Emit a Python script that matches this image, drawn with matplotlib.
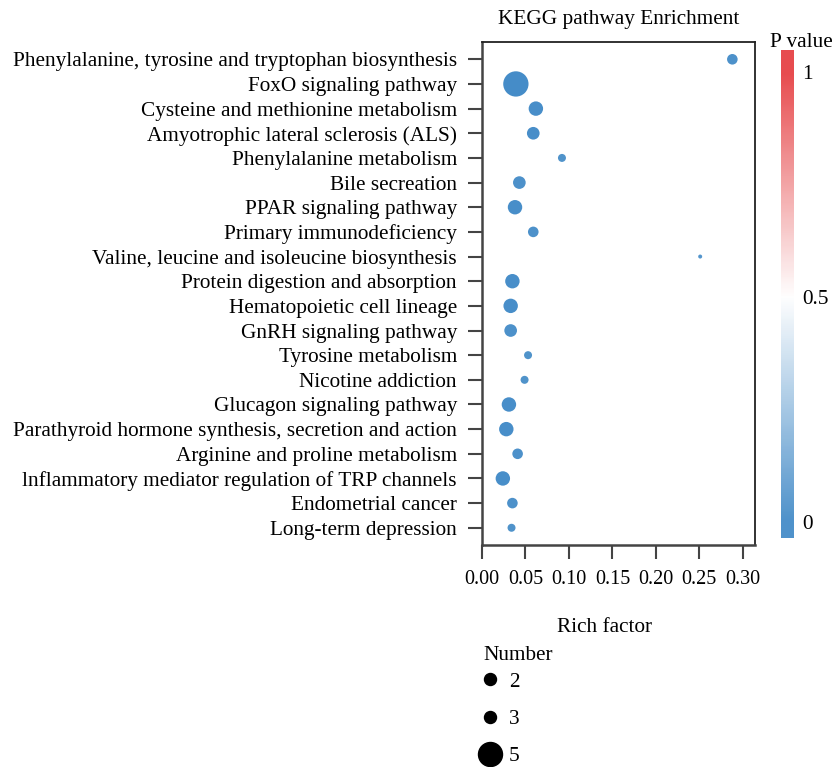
import matplotlib
matplotlib.use("Agg")
import numpy as np
from matplotlib import pyplot as plt
from matplotlib.colors import LinearSegmentedColormap
from matplotlib.lines import Line2D

plt.rcParams["font.family"] = ["Liberation Serif", "DejaVu Serif"]
plt.rcParams["font.size"] = 15.3

pathways = [
    "Phenylalanine, tyrosine and tryptophan biosynthesis",
    "FoxO signaling pathway",
    "Cysteine and methionine metabolism",
    "Amyotrophic lateral sclerosis (ALS)",
    "Phenylalanine metabolism",
    "Bile secreation",
    "PPAR signaling pathway",
    "Primary immunodeficiency",
    "Valine, leucine and isoleucine biosynthesis",
    "Protein digestion and absorption",
    "Hematopoietic cell lineage",
    "GnRH signaling pathway",
    "Tyrosine metabolism",
    "Nicotine addiction",
    "Glucagon signaling pathway",
    "Parathyroid hormone synthesis, secretion and action",
    "Arginine and proline metabolism",
    "lnflammatory mediator regulation of TRP channels",
    "Endometrial cancer",
    "Long-term depression",
]
rich_factor = [0.288, 0.039, 0.062, 0.059, 0.092, 0.043, 0.038, 0.059, 0.251, 0.035,
               0.033, 0.033, 0.053, 0.049, 0.031, 0.028, 0.041, 0.024, 0.035, 0.034]
gene_number = [3, 14, 5, 4, 2, 4, 5, 3, 1, 5, 5, 4, 2, 2, 5, 5, 3, 5, 3, 2]
p_value = [0.02, 0.001, 0.01, 0.01, 0.03, 0.02, 0.01, 0.02, 0.04, 0.01,
           0.01, 0.02, 0.03, 0.03, 0.01, 0.01, 0.02, 0.01, 0.02, 0.03]

legend_numbers = ["2", "3", "5"]
legend_marker_px = [12, 12, 24]

cmap = LinearSegmentedColormap.from_list("pv", ["#3b86c5", "#ffffff", "#e5383b"])


def marker_area(n):
    d_px = np.sqrt(16 + 48 * (np.asarray(n) - 1))
    return (d_px * 0.72) ** 2


fig = plt.figure(figsize=(8.33, 7.67), dpi=100)
ax = fig.add_axes([0.5786, 0.2894, 0.3277, 0.6558])

ypos = np.arange(len(pathways))
ax.scatter(rich_factor, ypos, s=marker_area(gene_number), c=p_value, cmap=cmap,
           vmin=0, vmax=1, alpha=0.95, edgecolors="none", zorder=3)

ax.set_ylim(len(pathways) - 1 + 0.7, -0.7)
ax.set_xlim(0, 0.314)
ax.set_yticks(ypos)
ax.set_yticklabels(pathways)
xt = np.arange(0, 0.31, 0.05)
ax.set_xticks(xt)
ax.set_xticklabels([f"{v:.2f}" for v in xt], fontsize=14.5)
ax.tick_params(axis="both", length=10, width=1.5, color="#444444", pad=8)
for side in ["left", "bottom"]:
    ax.spines[side].set_linewidth(1.8)
    ax.spines[side].set_color("#444444")
for side in ["top", "right"]:
    ax.spines[side].set_linewidth(1.3)
    ax.spines[side].set_color("#222222")

ax.set_title("KEGG pathway Enrichment", fontsize=15.3, pad=13)
ax.set_xlabel("Rich factor")
ax.xaxis.set_label_coords(0.45, -0.145)

# colour bar
cax = fig.add_axes([0.9376, 0.2986, 0.0156, 0.636])
grad = np.linspace(-0.036, 1.049, 256).reshape(-1, 1)
cax.imshow(grad, aspect="auto", cmap=cmap, vmin=0, vmax=1, origin="lower",
           extent=[0, 1, -0.036, 1.049], alpha=0.9)
cax.set_ylim(-0.036, 1.049)
cax.set_xticks([])
cax.yaxis.tick_right()
cax.set_yticks([0, 0.5, 1])
cax.set_yticklabels(["0", "0.5", "1"])
cax.tick_params(axis="y", length=0, pad=6)
for s in cax.spines.values():
    s.set_visible(False)
fig.text(0.9245, 0.944, "P value", ha="left", va="center")

# size legend
fig.text(483 / 833, 1 - 655 / 767, "Number", ha="left", va="center")
handles = [Line2D([], [], linestyle="none", marker="o", color="black",
                  markersize=d * 0.72) for d in legend_marker_px]
leg = fig.legend(handles, legend_numbers, loc="upper left",
                 bbox_to_anchor=(0.573, 1 - 672 / 767), frameon=False, labelspacing=0.82,
                 handletextpad=0.3, handlelength=1.2, borderpad=0, borderaxespad=0)

fig.savefig("out.png", dpi=100)
